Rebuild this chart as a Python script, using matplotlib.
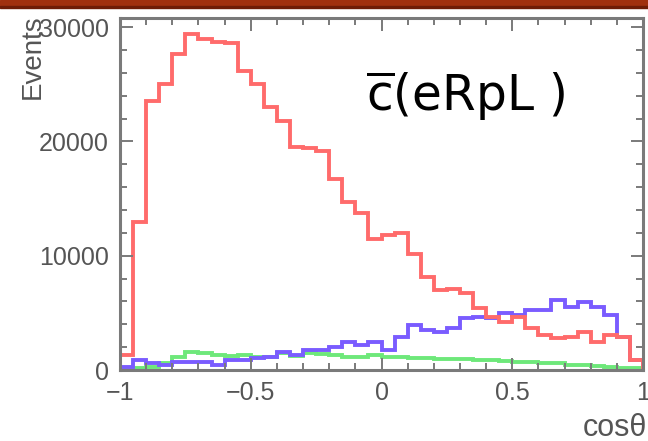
import matplotlib
matplotlib.use('Agg')
import matplotlib.pyplot as plt
import numpy as np
from matplotlib.patches import Rectangle
from matplotlib.ticker import MultipleLocator

# 40 bins in cos(theta) from -1 to 1
edges = np.linspace(-1, 1, 41)

red = [1300, 12950, 23580, 25040, 27660, 29400, 28970, 28700, 28650, 26200,
       25040, 23000, 21830, 19500, 19400, 19200, 16740, 14700, 13700, 11500,
       11800, 12000, 10190, 8150, 6990, 7130, 6700, 5390, 4650, 4220,
       4650, 3640, 3060, 2770, 2910, 3350, 2470, 3060, 2910, 870]

blue = [300, 870, 600, 440, 730, 730, 730, 440, 870, 870,
        1040, 1160, 1600, 1310, 1750, 1750, 2040, 2470, 2180, 2470,
        1750, 2910, 3930, 3490, 3350, 3640, 4510, 4650, 4510, 4950,
        4800, 5240, 5240, 6110, 5530, 5960, 5530, 4800, 2910, 870]

green = [100, 150, 290, 600, 1160, 1600, 1450, 1310, 1220, 1310,
         1160, 1160, 1450, 1220, 1450, 1400, 1310, 1160, 1160, 1310,
         1160, 1100, 1020, 1020, 1000, 1000, 950, 900, 870, 800,
         720, 720, 650, 600, 440, 400, 350, 290, 200, 150]

xticks = [-1, -0.5, 0, 0.5, 1]
xticklabels = ['\u22121', '\u22120.5', '0', '0.5', '1']
yticks = [0, 10000, 20000, 30000]

plt.rcParams['font.family'] = ['Liberation Sans', 'DejaVu Sans']
plt.rcParams['mathtext.fontset'] = 'dejavusans'

fig = plt.figure(figsize=(6.48, 4.41), dpi=100)
ax = fig.add_axes([120/648, 71/441, 523/648, 352/441])

ax.stairs(green, edges, color='#6ee87a', lw=2.8, baseline=0)
ax.stairs(blue, edges, color='#7a5cff', lw=2.8, baseline=0)
ax.stairs(red, edges, color='#ff6b6b', lw=2.8, baseline=0)

ax.set_xlim(-1, 1)
ax.set_ylim(0, 30800)
ax.set_xticks(xticks)
ax.set_xticklabels(xticklabels)
ax.set_yticks(yticks)
ax.xaxis.set_minor_locator(MultipleLocator(0.1))
ax.yaxis.set_minor_locator(MultipleLocator(2000))

gray = '#7a7a7a'
for s in ax.spines.values():
    s.set_color(gray)
    s.set_linewidth(2.2)
ax.tick_params(which='both', direction='in', top=True, right=True,
               color=gray, width=1.4, labelcolor='#555555', labelsize=18)
ax.tick_params(which='major', length=9, pad=8)
ax.tick_params(which='minor', length=5)

ax.text(0.47, 0.736, r'$\overline{\mathrm{c}}$(eRpL )', transform=ax.transAxes,
        fontsize=35, family='DejaVu Sans', color='black', va='baseline', ha='left')

fig.text(33/648, 1 - 14/441, 'Events', rotation=90, ha='center', va='top',
         fontsize=20, color='#555555')
fig.text(583/648, 5/441, 'cos\u03b8', ha='left', va='baseline',
         fontsize=22, color='#555555')

# dark red bar along the top edge of the slide
fig.patches.append(Rectangle((0, 1 - 6/441), 1, 6/441, transform=fig.transFigure,
                             color='#a0300f', zorder=10))
fig.patches.append(Rectangle((0, 1 - 8/441), 1, 2/441, transform=fig.transFigure,
                             color='#6e1c07', zorder=10))

fig.savefig('out.png', dpi=100)
